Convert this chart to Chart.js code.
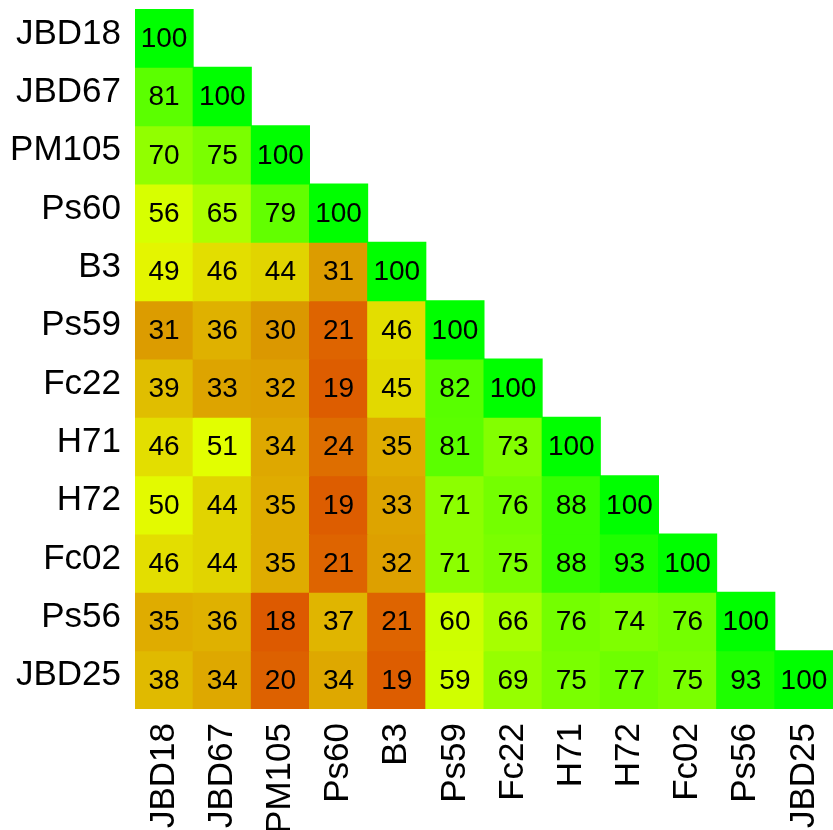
<!DOCTYPE html>
<html>
<head>
<meta charset="utf-8">
<script src="https://cdn.jsdelivr.net/npm/chart.js@4.4.0/dist/chart.umd.min.js"></script>
<style>
  html, body { margin: 0; padding: 0; background: #ffffff; overflow: hidden; }
  #wrap { width: 833px; height: 830px; position: relative; }
</style>
</head>
<body>
<div id="wrap"><canvas id="c" width="833" height="830"></canvas></div>
<script>
// Strain labels (rows top-to-bottom, columns left-to-right)
const strains = ["JBD18", "JBD67", "PM105", "Ps60", "B3", "Ps59", "Fc22", "H71", "H72", "Fc02", "Ps56", "JBD25"];

// Lower-triangular similarity values, one array per row
const rowJBD18 = [100];
const rowJBD67 = [81, 100];
const rowPM105 = [70, 75, 100];
const rowPs60  = [56, 65, 79, 100];
const rowB3    = [49, 46, 44, 31, 100];
const rowPs59  = [31, 36, 30, 21, 46, 100];
const rowFc22  = [39, 33, 32, 19, 45, 82, 100];
const rowH71   = [46, 51, 34, 24, 35, 81, 73, 100];
const rowH72   = [50, 44, 35, 19, 33, 71, 76, 88, 100];
const rowFc02  = [46, 44, 35, 21, 32, 71, 75, 88, 93, 100];
const rowPs56  = [35, 36, 18, 37, 21, 60, 66, 76, 74, 76, 100];
const rowJBD25 = [38, 34, 20, 34, 19, 59, 69, 75, 77, 75, 93, 100];

const rows = [rowJBD18, rowJBD67, rowPM105, rowPs60, rowB3, rowPs59, rowFc22, rowH71, rowH72, rowFc02, rowPs56, rowJBD25];

// Colour ramp (value -> rgb), red-orange -> yellow -> green
const rampStops = [
  [18, [221, 90, 0]],
  [24, [222, 110, 0]],
  [30, [219, 152, 0]],
  [35, [223, 172, 0]],
  [39, [224, 190, 0]],
  [44, [225, 212, 0]],
  [46, [227, 222, 0]],
  [49, [228, 245, 0]],
  [51, [226, 255, 0]],
  [56, [215, 255, 0]],
  [60, [205, 255, 0]],
  [65, [172, 255, 0]],
  [70, [145, 255, 0]],
  [75, [122, 255, 0]],
  [79, [98, 255, 0]],
  [82, [88, 255, 0]],
  [88, [55, 255, 0]],
  [93, [30, 255, 0]],
  [100, [0, 255, 0]]
];
function rampColor(v) {
  if (v <= rampStops[0][0]) return 'rgb(' + rampStops[0][1].join(',') + ')';
  for (let i = 1; i < rampStops.length; i++) {
    const [v1, c1] = rampStops[i];
    const [v0, c0] = rampStops[i - 1];
    if (v <= v1) {
      const t = (v - v0) / (v1 - v0);
      const c = c0.map((a, k) => Math.round(a + (c1[k] - a) * t));
      return 'rgb(' + c.join(',') + ')';
    }
  }
  return 'rgb(0,255,0)';
}

const datasets = rows.map((row, r) => ({
  label: strains[r],
  data: strains.map((_, c) => (c < row.length ? [r, r + 1] : null)),
  backgroundColor: strains.map((_, c) => (c < row.length ? rampColor(row[c]) : 'rgba(0,0,0,0)')),
  borderWidth: 0,
  inflateAmount: 0.5,
  barPercentage: 1,
  categoryPercentage: 1,
  grouped: false
}));

const cellLabels = {
  id: 'cellLabels',
  afterDatasetsDraw(chart) {
    const ctx = chart.ctx;
    ctx.save();
    ctx.font = '28px "Liberation Sans", Arial, sans-serif';
    ctx.fillStyle = '#000000';
    ctx.textAlign = 'center';
    ctx.textBaseline = 'middle';
    rows.forEach((row, r) => {
      const meta = chart.getDatasetMeta(r);
      meta.data.forEach((bar, c) => {
        if (c >= row.length) return;
        const p = bar.getProps(['x', 'y', 'base'], true);
        ctx.fillText(String(row[c]), p.x, (p.y + p.base) / 2 + 1);
      });
    });
    ctx.restore();
  }
};

new Chart(document.getElementById('c'), {
  type: 'bar',
  data: { labels: strains, datasets: datasets },
  options: {
    responsive: false,
    animation: false,
    layout: { padding: { top: 9, left: 0, right: 0, bottom: 0 } },
    plugins: { legend: { display: false }, tooltip: { enabled: false } },
    scales: {
      x: {
        type: 'category',
        offset: true,
        grid: { display: false, drawTicks: false },
        border: { display: false },
        ticks: {
          autoSkip: false,
          maxRotation: 90,
          minRotation: 90,
          padding: 14,
          color: '#000000',
          font: { family: '"Liberation Sans", Arial, sans-serif', size: 35 }
        },
        afterFit(scale) {
          scale.height = 121;
          scale.paddingLeft = 0; scale.paddingRight = 0;
          scale.paddingTop = 0; scale.paddingBottom = 0;
        }
      },
      y: {
        type: 'linear',
        min: 0,
        max: strains.length,
        reverse: true,
        grid: { display: false, drawTicks: false },
        border: { display: false },
        afterBuildTicks(scale) {
          scale.ticks = strains.map((_, i) => ({ value: i + 0.5 }));
        },
        ticks: {
          autoSkip: false,
          padding: 14,
          labelOffset: -4,
          color: '#000000',
          font: { family: '"Liberation Sans", Arial, sans-serif', size: 35 },
          callback: (v) => strains[Math.floor(v)]
        },
        afterFit(scale) {
          scale.width = 135;
          scale.paddingLeft = 0; scale.paddingRight = 0;
          scale.paddingTop = 0; scale.paddingBottom = 0;
        }
      }
    }
  },
  plugins: [cellLabels]
});
</script>
</body>
</html>
